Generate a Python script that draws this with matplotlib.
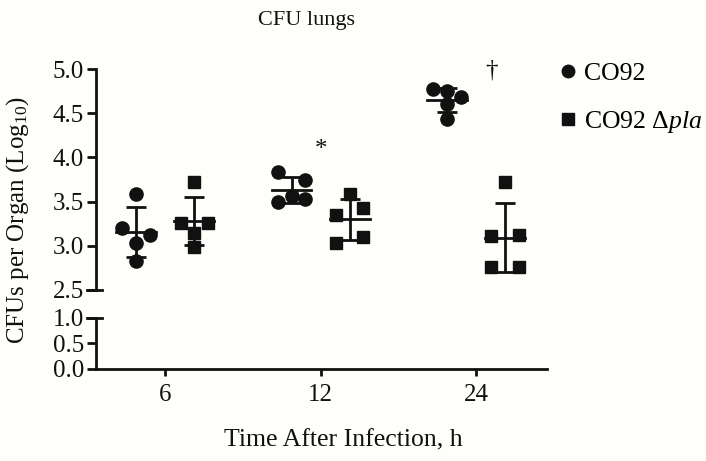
import matplotlib.pyplot as plt
from matplotlib.lines import Line2D
import numpy as np

plt.rcParams['font.family'] = ['Liberation Serif', 'DejaVu Serif']
plt.rcParams['mathtext.fontset'] = 'custom'
plt.rcParams['mathtext.rm'] = 'Liberation Serif'
plt.rcParams['mathtext.it'] = 'Liberation Serif:italic'

# данные: log10 КОЕ в лёгких, по 5 животных на точку
hours = ['6', '12', '24']
co92 = [
    [3.59, 3.20, 3.12, 3.03, 2.83],
    [3.83, 3.75, 3.50, 3.56, 3.53],
    [4.77, 4.75, 4.69, 4.61, 4.44],
]
co92_pla = [
    [3.72, 3.26, 3.15, 3.26, 2.99],
    [3.59, 3.35, 3.43, 3.03, 3.10],
    [3.72, 3.11, 3.12, 2.76, 2.76],
]
# значимость: индекс группы -> знак
marks = {1: '*', 2: '\u2020'}

INK = '#111111'
BG = '#fefefa'


# раскладка точек рядами, как в Prism
def swarm(vals, step, gap=0.15):
    order = sorted(range(len(vals)), key=lambda i: -vals[i])
    rows = []
    for i in order:
        if rows and vals[rows[-1][0]] - vals[i] < gap:
            rows[-1].append(i)
        else:
            rows.append([i])
    offs = [0.0] * len(vals)
    for row in rows:
        row.sort()
        n = len(row)
        slots = [-1, 1] if n == 2 else [k - (n - 1) / 2 for k in range(n)]
        for i, s in zip(row, slots):
            offs[i] = s * step
    return offs


fig = plt.figure(figsize=(7.06, 4.61), dpi=100, facecolor=BG)
ax_top = fig.add_axes([0.136, 0.371, 0.639, 0.479], facecolor='none')
ax_bot = fig.add_axes([0.136, 0.1996, 0.639, 0.1106], facecolor='none', sharex=ax_top)

shift = 0.187   # сдвиг групп от центра категории
step = 0.088    # ширина одного места под маркер
half = 0.128    # половина ширины линии среднего

for series, sign, marker, ms in [(co92, -1, 'o', 9.5), (co92_pla, 1, 's', 8.5)]:
    for k, vals in enumerate(series):
        xc = k + sign * shift
        xs = [xc + o for o in swarm(vals, step)]
        ax_top.plot(xs, vals, ls='none', marker=marker, ms=ms, color=INK, zorder=3)
        m = np.mean(vals)
        sd = np.std(vals, ddof=1)
        ax_top.errorbar([xc], [m], yerr=[sd], fmt='none', ecolor=INK,
                        elinewidth=2, capsize=7, capthick=2, zorder=4)
        ax_top.plot([xc - half, xc + half], [m, m], color=INK, lw=2, zorder=4)

for k, s in marks.items():
    xk = k if s == '*' else k + 0.1
    yk = 4.08 if s == '*' else 4.99
    ax_top.text(xk, yk, s, ha='center', va='center', fontsize=18, color=INK)

# оси
for ax in (ax_top, ax_bot):
    for side in ('top', 'right'):
        ax.spines[side].set_visible(False)
    ax.spines['left'].set_linewidth(2)
    ax.spines['left'].set_color(INK)
    ax.tick_params(axis='y', direction='out', length=6.5, width=2, colors=INK,
                   labelsize=18, pad=2)
ax_top.spines['bottom'].set_visible(False)
ax_top.tick_params(axis='x', bottom=False, labelbottom=False)
ax_bot.spines['bottom'].set_linewidth(2)
ax_bot.spines['bottom'].set_color(INK)
ax_bot.tick_params(axis='x', direction='out', length=5, width=2, colors=INK,
                   labelsize=18, pad=6)

ax_top.set_ylim(2.5, 5.0)
ax_top.set_yticks(np.arange(2.5, 5.01, 0.5))
ax_top.set_yticklabels(['%.1f' % v for v in np.arange(2.5, 5.01, 0.5)])
ax_bot.set_ylim(0, 1.0)
ax_bot.set_yticks([0, 0.5, 1.0])
ax_bot.set_yticklabels(['0.0', '0.5', '1.0'])
ax_bot.set_xlim(-0.445, 2.457)
ax_bot.set_xticks(range(len(hours)))
ax_bot.set_xticklabels(hours)

# засечки в месте разрыва оси
d = 0.02
ax_top.plot([-d, d * 0.7], [0, 0], transform=ax_top.transAxes, color=INK, lw=2, clip_on=False)
ax_bot.plot([-d, d * 0.7], [1, 1], transform=ax_bot.transAxes, color=INK, lw=2, clip_on=False)

fig.text(307 / 706, 1 - 20 / 461, 'CFU lungs', ha='center', va='center', fontsize=16, color=INK)
fig.text(343 / 706, 1 - 440 / 461, 'Time After Infection, h', ha='center', va='center',
         fontsize=18.5, color=INK)
fig.text(18 / 706, 1 - 220 / 461, 'CFUs per Organ (Log$_{10}$)', ha='center', va='center',
         rotation=90, fontsize=18, color=INK)

handles = [
    Line2D([], [], ls='none', marker='o', ms=9, color=INK),
    Line2D([], [], ls='none', marker='s', ms=8, color=INK),
]
fig.legend(handles, ['CO92', 'CO92 \u0394$\\mathit{pla}$'], loc='upper left',
           bbox_to_anchor=(538 / 706, 1 - 44 / 461), frameon=False, fontsize=18.5,
           handletextpad=0.15, handlelength=0.95, labelspacing=0.95, borderpad=0.2)

plt.savefig('out.png', dpi=100, facecolor=BG)
